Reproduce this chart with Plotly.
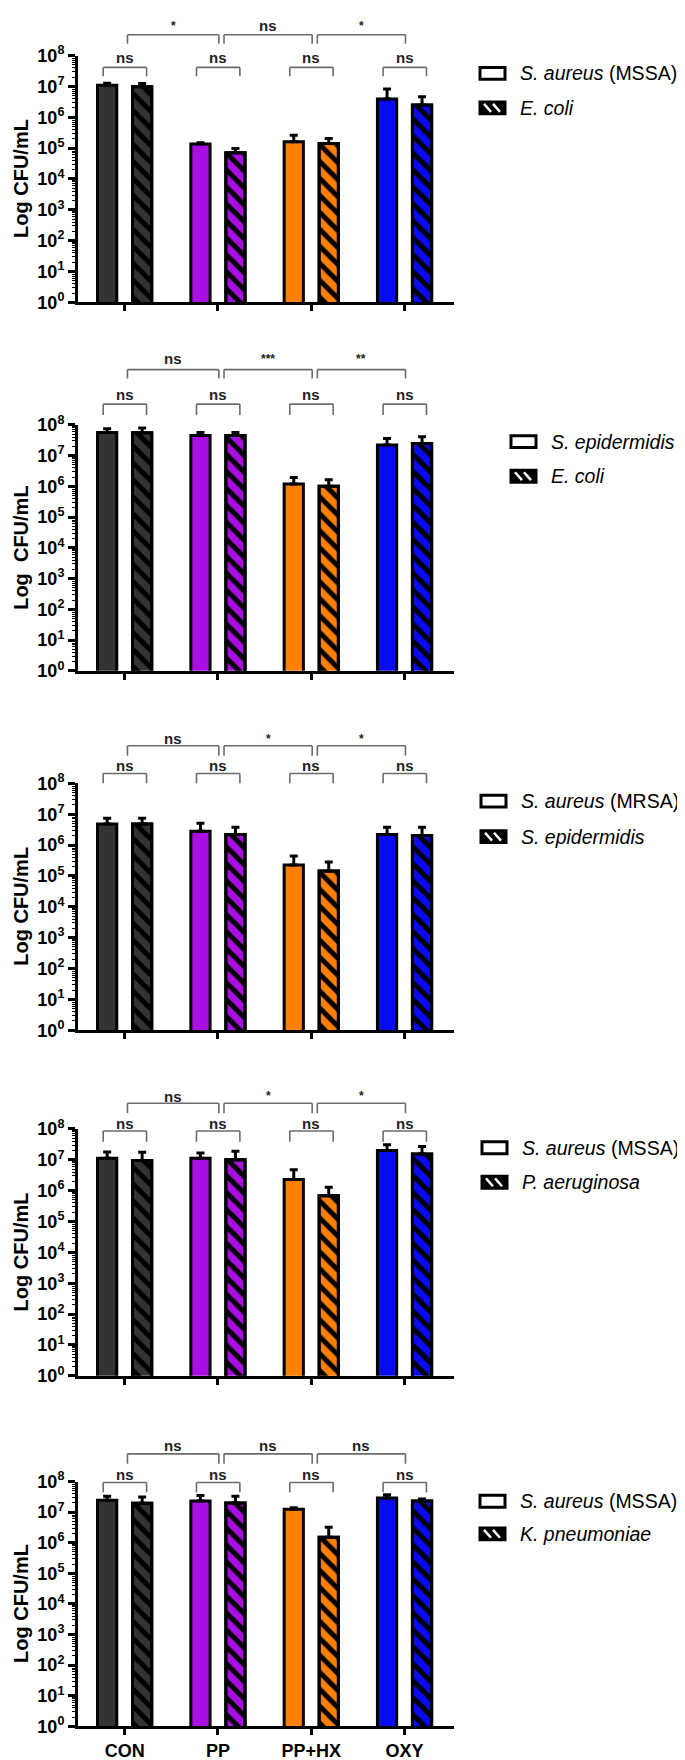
import plotly.graph_objects as go

# ---------------- DATA ----------------
categories = ["CON", "PP", "PP+HX", "OXY"]
tick_powers = [0, 1, 2, 3, 4, 5, 6, 7, 8]

# Panel 1
p1_names = ["<i>S. aureus</i> (MSSA)", "<i>E. coli</i>"]
p1_solid = [1.1e7, 1.35e5, 1.6e5, 3.9e6]
p1_solid_top = [1.26e7, 1.5e5, 2.6e5, 8.2e6]
p1_hatch = [9.8e6, 7.1e4, 1.4e5, 2.5e6]
p1_hatch_top = [1.24e7, 9.8e4, 2.05e5, 4.6e6]
p1_pair_sig = ["ns", "ns", "ns", "ns"]
p1_between_sig = ["*", "ns", "*"]

# Panel 2
p2_names = ["<i>S. epidermidis</i>", "<i>E. coli</i>"]
p2_solid = [5.7e7, 4.5e7, 1.2e6, 2.2e7]
p2_solid_top = [7.5e7, 5.7e7, 1.95e6, 3.6e7]
p2_hatch = [5.5e7, 4.5e7, 1.0e6, 2.5e7]
p2_hatch_top = [7.9e7, 5.7e7, 1.65e6, 4.1e7]
p2_pair_sig = ["ns", "ns", "ns", "ns"]
p2_between_sig = ["ns", "***", "**"]

# Panel 3
p3_names = ["<i>S. aureus</i> (MRSA)", "<i>S. epidermidis</i>"]
p3_solid = [4.8e6, 2.8e6, 2.25e5, 2.2e6]
p3_solid_top = [7.4e6, 5.1e6, 4.4e5, 3.8e6]
p3_hatch = [4.8e6, 2.2e6, 1.45e5, 2.05e6]
p3_hatch_top = [7.4e6, 3.8e6, 2.8e5, 3.8e6]
p3_pair_sig = ["ns", "ns", "ns", "ns"]
p3_between_sig = ["ns", "*", "*"]

# Panel 4
p4_names = ["<i>S. aureus</i> (MSSA)", "<i>P. aeruginosa</i>"]
p4_solid = [1.12e7, 1.12e7, 2.3e6, 2.0e7]
p4_solid_top = [1.8e7, 1.66e7, 4.8e6, 3.1e7]
p4_hatch = [9.5e6, 1.0e7, 6.8e5, 1.55e7]
p4_hatch_top = [1.75e7, 1.9e7, 1.3e6, 2.7e7]
p4_pair_sig = ["ns", "ns", "ns", "ns"]
p4_between_sig = ["ns", "*", "*"]

# Panel 5
p5_names = ["<i>S. aureus</i> (MSSA)", "<i>K. pneumoniae</i>"]
p5_solid = [2.46e7, 2.3e7, 1.24e7, 2.9e7]
p5_solid_top = [3.3e7, 3.5e7, 1.4e7, 3.7e7]
p5_hatch = [1.95e7, 2.0e7, 1.5e6, 2.3e7]
p5_hatch_top = [3.1e7, 3.3e7, 3.2e6, 2.7e7]
p5_pair_sig = ["ns", "ns", "ns", "ns"]
p5_between_sig = ["ns", "ns", "ns"]

y_titles = ["Log CFU/mL", "Log\u00a0 CFU/mL", "Log CFU/mL", "Log CFU/mL", "Log CFU/mL"]

# ---------------- STYLE / LAYOUT ----------------
group_colors = ["#333333", "#A90FE2", "#FF8000", "#0A0AF5"]
W, H = 685, 1760
FONT = "Liberation Sans, Arial, Helvetica, sans-serif"
AX_LEFT, AX_RIGHT = 70, 446

panel_layout = [
    dict(top=36, bottom=286, pair=(48, 57, 38), between=(15, 24, 6), lx=472, ly=(54, 89)),
    dict(top=410, bottom=659, pair=(389, 400, 379), between=(354, 363, 343), lx=503, ly=(427, 462)),
    dict(top=773, bottom=1023, pair=(763, 773, 755), between=(735, 745, 728), lx=473, ly=(791, 827)),
    dict(top=1123, bottom=1373, pair=(1125, 1136, 1117), between=(1097, 1107, 1090), lx=474, ly=(1142, 1177)),
    dict(top=1480, bottom=1728, pair=(1481, 1491, 1473), between=(1452, 1462, 1444), lx=472, ly=(1500, 1533)),
]

panels = [
    (p1_names, p1_solid, p1_solid_top, p1_hatch, p1_hatch_top, p1_pair_sig, p1_between_sig),
    (p2_names, p2_solid, p2_solid_top, p2_hatch, p2_hatch_top, p2_pair_sig, p2_between_sig),
    (p3_names, p3_solid, p3_solid_top, p3_hatch, p3_hatch_top, p3_pair_sig, p3_between_sig),
    (p4_names, p4_solid, p4_solid_top, p4_hatch, p4_hatch_top, p4_pair_sig, p4_between_sig),
    (p5_names, p5_solid, p5_solid_top, p5_hatch, p5_hatch_top, p5_pair_sig, p5_between_sig),
]


def py(p):
    return 1 - p / H


def pxx(p):
    return p / W


def err(top, val):
    return dict(type="data", symmetric=False,
                array=[t - v for t, v in zip(top, val)],
                arrayminus=[0] * len(val),
                color="black", thickness=3, width=4)


fig = go.Figure()
shapes = []
annotations = []
layout_axes = {}

for i, (names, solid, solid_top, hatch, hatch_top, pair_sig, between_sig) in enumerate(panels):
    L = panel_layout[i]
    n = "" if i == 0 else str(i + 1)
    xa, ya = "x" + n, "y" + n

    # first series: solid bars
    fig.add_trace(go.Bar(
        x=categories, y=solid, name=names[0], showlegend=False,
        xaxis=xa, yaxis=ya, offsetgroup="solid",
        marker=dict(color=group_colors, line=dict(color="black", width=3)),
        error_y=err(solid_top, solid),
    ))
    # second series: coloured fill ...
    fig.add_trace(go.Bar(
        x=categories, y=hatch, name=names[1], showlegend=False,
        xaxis=xa, yaxis=ya, offsetgroup="hatch",
        marker=dict(color=group_colors, line=dict(color="black", width=3)),
        error_y=err(hatch_top, hatch),
    ))
    # ... with black diagonal hatching drawn over it
    fig.add_trace(go.Bar(
        x=categories, y=hatch, name=names[1], showlegend=False, hoverinfo="skip",
        xaxis=xa, yaxis=ya, offsetgroup="hatch",
        marker=dict(color="black", line=dict(color="black", width=3),
                    pattern=dict(shape="\\", fillmode="replace", fgcolor="black",
                                 bgcolor="rgba(0,0,0,0)", fgopacity=1,
                                 size=12, solidity=0.42)),
    ))

    last = i == len(panels) - 1
    layout_axes["xaxis" + n] = dict(
        domain=[pxx(AX_LEFT), pxx(AX_RIGHT)], anchor=ya, type="category",
        categoryorder="array", categoryarray=categories,
        range=[-0.5, 3.53], showline=True, linecolor="black", linewidth=3,
        ticks="outside", ticklen=6, tickwidth=2.5, tickcolor="black",
        showticklabels=last, showgrid=False, zeroline=False,
        tickfont=dict(family=FONT, size=18, color="black", weight=700),
    )
    layout_axes["yaxis" + n] = dict(
        domain=[py(L["bottom"]), py(L["top"])], anchor=xa, type="log",
        range=[0, 8], showline=True, linecolor="black", linewidth=3,
        ticks="outside", ticklen=7, tickwidth=2.5, tickcolor="black",
        tickmode="array", tickvals=[10 ** k for k in tick_powers],
        ticktext=["10<sup>%d</sup>" % k for k in tick_powers],
        showgrid=False, zeroline=False,
        tickfont=dict(family=FONT, size=18, color="black", weight=700),
        minor=dict(ticks="outside", ticklen=3, tickwidth=1, tickcolor="black",
                   dtick="D1", showgrid=False),
    )

    # y-axis title
    annotations.append(dict(
        text=y_titles[i], textangle=-90, xref="paper", yref="paper",
        x=pxx(13), y=py((L["top"] + L["bottom"]) / 2), xanchor="center", yanchor="middle",
        showarrow=False, font=dict(family=FONT, size=20, color="black", weight=700),
    ))

    bcol = "#6b6b6b"
    # pair brackets
    ph, pl, plab = L["pair"]
    for j, s in enumerate(pair_sig):
        x0, x1 = j - 0.23, j + 0.235
        for (a, b, c, d) in [(x0, ph, x1, ph), (x0, ph, x0, pl), (x1, ph, x1, pl)]:
            shapes.append(dict(type="line", xref=xa, yref="paper", x0=a, x1=c,
                               y0=py(b), y1=py(d), line=dict(color=bcol, width=1.6)))
        annotations.append(dict(text=s, xref=xa, yref="paper", x=j, y=py(plab),
                                xanchor="center", yanchor="middle", showarrow=False,
                                font=dict(family=FONT, size=15 if s == "ns" else 12,
                                          color="#222222", weight=700)))
    # between-group brackets
    bh, bl, blab = L["between"]
    for j, s in enumerate(between_sig):
        x0, x1 = j + 0.03 + 0.035 * (j > 0), j + 1.01
        for (a, b, c, d) in [(x0, bh, x1, bh), (x0, bh, x0, bl), (x1, bh, x1, bl)]:
            shapes.append(dict(type="line", xref=xa, yref="paper", x0=a, x1=c,
                               y0=py(b), y1=py(d), line=dict(color=bcol, width=1.6)))
        annotations.append(dict(text=s, xref=xa, yref="paper", x=(x0 + x1) / 2, y=py(blab),
                                xanchor="center", yanchor="middle", showarrow=False,
                                font=dict(family=FONT, size=15 if s == "ns" else 12,
                                          color="#222222", weight=700)))

    # legend (drawn manually)
    lx = L["lx"]
    for k, yc in enumerate(L["ly"]):
        shapes.append(dict(type="rect", xref="paper", yref="paper",
                           x0=pxx(lx), x1=pxx(lx + 25), y0=py(yc - 6), y1=py(yc + 6),
                           fillcolor="white" if k == 0 else "black",
                           line=dict(color="black", width=3)))
        if k == 1:
            for dx in (4, 13):
                shapes.append(dict(type="line", xref="paper", yref="paper",
                                   x0=pxx(lx + dx), x1=pxx(lx + dx + 7),
                                   y0=py(yc - 4), y1=py(yc + 4),
                                   line=dict(color="white", width=2.5)))
        annotations.append(dict(text=names[k], xref="paper", yref="paper",
                                x=pxx(lx + 39), y=py(yc), xanchor="left", yanchor="middle",
                                showarrow=False, borderpad=0,
                                font=dict(family=FONT, size=19.5, color="black")))

fig.update_layout(
    width=W, height=H, margin=dict(l=0, r=0, t=0, b=0),
    paper_bgcolor="white", plot_bgcolor="white",
    barmode="group", bargap=0.25, bargroupgap=0.45,
    showlegend=False, shapes=shapes, annotations=annotations,
    font=dict(family=FONT, color="black"),
    **layout_axes,
)

fig.write_html("out.html")
